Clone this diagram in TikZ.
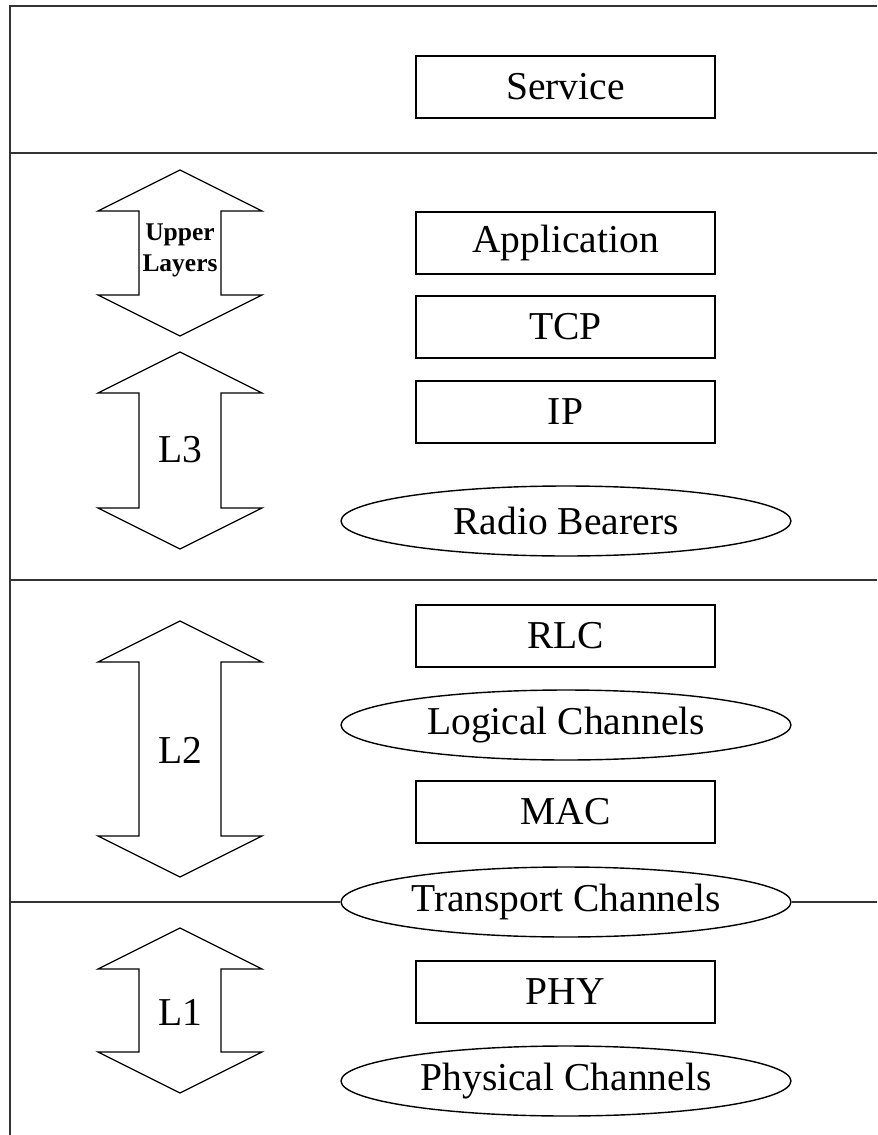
\documentclass[tikz,border=0pt]{standalone}
\usepackage{fontspec}
\setmainfont{Liberation Serif}
\usetikzlibrary{shapes.geometric}
\tikzset{
  schicht/.style={draw,line width=0.8pt,minimum width=5.98cm,minimum height=1.24cm,inner sep=0pt},
  kanal/.style={draw,ellipse,fill=white,line width=0.8pt,minimum width=9cm,minimum height=1.4cm,inner sep=0pt},
  pfeil/.style={draw,line width=0.7pt,line join=miter},
  rahmen/.style={line width=1pt,draw=black!80},
}
\newcommand{\schriftgross}{\fontsize{22.5}{27}\selectfont}
\begin{document}
\begin{tikzpicture}[x=0.02cm,y=-0.02cm,font=\schriftgross]
  \useasboundingbox (0,0) rectangle (877,1135);
  % Rahmen
  \draw[rahmen] (877,6) -- (10,6) -- (10,1135);
  \foreach \y in {153,580}{
    \draw[rahmen] (10,\y) -- (877,\y);
  }
  \coordinate (links) at (10,902); \coordinate (rechts) at (877,902);
  % Pfeile
  \def\mitte{180}
  \def\kopf{41}
  \foreach \oben/\unten in {170/336,352/549,621/877,928/1093}{
    \draw[pfeil] (\mitte,\oben) -- (\mitte+82,\oben+\kopf) -- (\mitte+41,\oben+\kopf)
      -- (\mitte+41,\unten-\kopf) -- (\mitte+82,\unten-\kopf) -- (\mitte,\unten)
      -- (\mitte-82,\unten-\kopf) -- (\mitte-41,\unten-\kopf) -- (\mitte-41,\oben+\kopf)
      -- (\mitte-82,\oben+\kopf) -- cycle;
  }
  \node[font=\bfseries\fontsize{14.5}{17.6}\selectfont,align=center,inner sep=0pt] (upper) at (\mitte,250) {Upper\\Layers};
  \node (lthree) at (\mitte,450) {L3};
  \node (ltwo) at (\mitte,750) {L2};
  \node (lone) at (\mitte,1012) {L1};
  % Schichten
  \node[schicht] (service) at (565.5,87) {Service};
  \node[schicht] (app) at (565.5,243) {Application};
  \node[schicht] (tcp) at (565.5,327) {TCP};
  \node[schicht] (ip) at (565.5,412) {IP};
  \node[kanal] (rb) at (566,521) {Radio Bearers};
  \node[schicht] (rlc) at (565.5,636) {RLC};
  \node[kanal] (logch) at (566,725) {Logical Channels};
  \node[schicht] (mac) at (565.5,812) {MAC};
  \node[kanal] (trch) at (566,902) {Transport Channels};
  \node[schicht] (phy) at (565.5,992) {PHY};
  \node[kanal] (phych) at (566,1081) {Physical Channels};
  \draw[rahmen] (links) -- (trch.west) (trch.east) -- (rechts);
\end{tikzpicture}
\end{document}
